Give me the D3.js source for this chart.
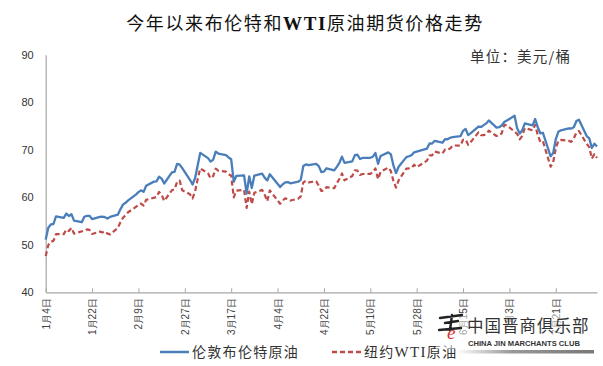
<!DOCTYPE html>
<html>
<head>
<meta charset="utf-8">
<script src="https://cdn.jsdelivr.net/npm/d3@7"></script>
<style>
  body { margin: 0; background: #fff; }
  svg { display: block; font-family: "Noto Sans CJK SC", "Liberation Sans", sans-serif; }
</style>
</head>
<body>
<div id="chart"></div>
<script>
var width = 603, height = 366;

// trading days, 2021 (month-day)
var dates = [
  "01-04","01-05","01-06","01-07","01-08","01-11","01-12","01-13","01-14","01-15",
  "01-18","01-19","01-20","01-21","01-22","01-25","01-26","01-27","01-28","01-29",
  "02-01","02-02","02-03","02-04","02-05","02-08","02-09","02-10","02-11","02-12",
  "02-15","02-16","02-17","02-18","02-19","02-22","02-23","02-24","02-25","02-26",
  "03-01","03-02","03-03","03-04","03-05","03-08","03-09","03-10","03-11","03-12",
  "03-15","03-16","03-17","03-18","03-19","03-22","03-23","03-24","03-25","03-26",
  "03-29","03-30","03-31",
  "04-01","04-05","04-06","04-07","04-08","04-09","04-12","04-13","04-14","04-15",
  "04-16","04-19","04-20","04-21","04-22","04-23","04-26","04-27","04-28","04-29","04-30",
  "05-03","05-04","05-05","05-06","05-07","05-10","05-11","05-12","05-13","05-14",
  "05-17","05-18","05-19","05-20","05-21","05-24","05-25","05-26","05-27","05-28",
  "06-01","06-02","06-03","06-04","06-07","06-08","06-09","06-10","06-11","06-14",
  "06-15","06-16","06-17","06-18","06-21","06-22","06-23","06-24","06-25","06-28",
  "06-29","06-30",
  "07-01","07-02","07-05","07-06","07-07","07-08","07-09","07-12","07-13","07-14",
  "07-15","07-16","07-19","07-20","07-21","07-22","07-23","07-26","07-27","07-28",
  "07-29","07-30",
  "08-02","08-03","08-04","08-05","08-06"
];

// 伦敦布伦特原油
var brent = [
  51.09,53.60,54.30,54.38,55.99,55.66,56.58,56.06,56.42,55.10,
  54.75,55.90,56.08,56.10,55.41,55.88,55.91,55.81,55.53,55.88,
  56.35,57.46,58.46,58.84,59.34,60.56,61.09,61.47,61.14,62.43,
  63.30,63.35,64.34,63.93,62.91,65.24,65.37,67.04,66.88,66.13,
  63.69,62.70,64.07,66.74,69.36,68.24,67.52,67.90,69.63,69.22,
  68.88,68.39,68.00,63.28,64.53,64.62,60.79,64.41,61.95,64.57,
  64.98,64.14,63.54,
  64.86,62.15,62.74,63.16,63.20,62.95,63.28,63.67,66.58,66.94,
  66.77,67.05,66.57,65.32,65.40,66.11,65.65,66.42,67.27,68.56,67.25,
  67.56,68.88,68.96,68.09,68.28,68.32,68.55,69.32,67.05,68.71,
  69.46,69.03,66.66,65.11,66.44,68.46,68.65,68.87,69.46,69.63,
  70.25,71.35,71.31,71.89,71.49,72.22,72.22,72.52,72.69,72.86,
  73.99,74.39,73.08,73.51,74.90,74.81,75.19,75.56,76.18,74.68,
  74.76,75.13,
  75.84,76.17,77.16,74.53,73.43,74.12,75.55,75.16,76.49,74.76,
  73.47,73.59,68.62,69.35,72.23,73.79,74.10,74.50,74.48,74.74,
  76.05,76.33,
  72.89,72.41,70.38,71.29,70.70
];

// 纽约WTI原油 (null = no settlement that day)
var wti = [
  47.62,49.93,50.63,50.83,52.24,52.25,53.21,52.91,53.57,52.36,
  null,52.98,53.24,53.13,52.27,52.77,52.61,52.85,52.34,52.20,
  53.55,54.76,55.69,56.23,56.85,57.97,58.36,58.68,58.24,59.47,
  null,60.05,61.14,60.52,59.24,61.49,61.67,63.22,63.53,61.50,
  60.64,59.75,61.28,63.83,66.09,65.05,64.01,64.44,66.02,65.61,
  65.39,64.80,64.60,60.00,61.42,61.55,57.76,61.18,58.56,60.97,
  61.56,60.55,59.16,
  61.45,58.65,59.33,59.77,59.60,59.32,59.70,60.18,63.15,63.46,
  63.13,63.38,62.44,61.35,61.43,62.14,61.91,62.94,63.86,65.01,63.58,
  64.49,65.69,65.63,64.71,64.90,64.92,65.28,66.08,63.82,65.37,
  66.27,65.49,63.36,62.05,63.58,66.05,66.07,66.21,66.85,66.32,
  67.72,68.83,68.81,69.62,69.23,70.05,69.96,70.29,70.91,70.88,
  72.12,72.15,71.04,71.64,73.66,73.06,73.08,73.30,74.05,72.91,
  72.98,73.47,
  75.23,75.16,null,73.37,72.20,72.94,74.56,74.10,75.25,73.13,
  71.65,71.81,66.42,67.42,70.30,71.91,72.07,71.91,71.65,72.39,
  73.62,73.95,
  71.26,70.56,68.15,69.09,68.28
];

var tickDates = ["01-04","01-22","02-09","02-27","03-17","04-04","04-22","05-10","05-28","06-15","07-03","07-21"];
var tickLabels = ["1月4日","1月22日","2月9日","2月27日","3月17日","4月4日","4月22日","5月10日","5月28日","6月15日","7月3日","7月21日"];
var yTicks = [40, 50, 60, 70, 80, 90];

var seriesNames = ["伦敦布伦特原油", "纽约WTI原油"];
var unitText = "单位：美元/桶";

function toDate(s) { return new Date("2021-" + s + "T00:00:00Z"); }

var rows = dates.map(function(d, i) {
  return { date: toDate(d), brent: brent[i], wti: wti[i] };
});

var svg = d3.select("#chart").append("svg")
  .attr("width", width)
  .attr("height", height);

svg.append("rect").attr("width", width).attr("height", height).attr("fill", "#fff");

var x = d3.scaleUtc()
  .domain([toDate("01-04"), toDate("08-06")])
  .range([45.7, 597]);

var y = d3.scaleLinear()
  .domain([40, 90])
  .range([292.3, 54.8]);

// title
var t = svg.append("text")
  .attr("x", 305).attr("y", 30)
  .attr("text-anchor", "middle")
  .attr("font-size", 18)
  .attr("letter-spacing", 1.6)
  .attr("fill", "#111");
t.append("tspan").text("今年以来布伦特和");
t.append("tspan").attr("font-family", "Liberation Serif, serif").attr("font-weight", "bold").attr("font-size", 19).text("WTI");
t.append("tspan").text("原油期货价格走势");

svg.append("text")
  .attr("x", 470).attr("y", 62)
  .attr("font-size", 14.5)
  .attr("letter-spacing", 1.2)
  .attr("fill", "#333")
  .text(unitText);

// y axis
var yAxis = svg.append("g")
  .attr("transform", "translate(45.7,0)")
  .call(d3.axisLeft(y).tickValues(yTicks).tickSize(0).tickPadding(12));
yAxis.select(".domain").attr("stroke", "#a6a6a6").attr("stroke-width", 1.2);
yAxis.selectAll("text")
  .attr("font-family", "Liberation Sans, sans-serif")
  .attr("font-size", 11)
  .attr("fill", "#333");

// x axis
var xAxis = svg.append("g")
  .attr("transform", "translate(0," + y(40) + ")")
  .call(d3.axisBottom(x)
    .tickValues(tickDates.map(toDate))
    .tickSize(-4)
    .tickSizeOuter(0)
    .tickFormat(function(d, i) { return tickLabels[i]; }));
xAxis.select(".domain").attr("stroke", "#a6a6a6").attr("stroke-width", 1.2);
xAxis.selectAll(".tick line").attr("stroke", "#a6a6a6");
xAxis.selectAll("text")
  .attr("font-size", 10)
  .attr("fill", "#444")
  .attr("text-anchor", "end")
  .attr("dy", "0.35em")
  .attr("transform", "translate(0,6) rotate(-90)")
  .attr("x", 0).attr("y", 0);

// lines
var brentLine = d3.line()
  .defined(function(d) { return d.brent != null; })
  .x(function(d) { return x(d.date); })
  .y(function(d) { return y(d.brent); });

var wtiLine = d3.line()
  .defined(function(d) { return d.wti != null; })
  .x(function(d) { return x(d.date); })
  .y(function(d) { return y(d.wti); });

var blue = "#4a7ebb", red = "#be4b48";

svg.append("path")
  .datum(rows.filter(function(d) { return d.wti != null; }))
  .attr("d", wtiLine)
  .attr("fill", "none")
  .attr("stroke", red)
  .attr("stroke-width", 2.2)
  .attr("stroke-dasharray", "5,3")
  .attr("stroke-linejoin", "round");

svg.append("path")
  .datum(rows)
  .attr("d", brentLine)
  .attr("fill", "none")
  .attr("stroke", blue)
  .attr("stroke-width", 2.3)
  .attr("stroke-linejoin", "round");

// legend
var legend = svg.append("g").attr("font-size", 14).attr("fill", "#333").attr("letter-spacing", 1.3);
legend.append("line").attr("x1", 160).attr("x2", 189).attr("y1", 352).attr("y2", 352)
  .attr("stroke", blue).attr("stroke-width", 2.5);
legend.append("text").attr("x", 192).attr("y", 357).text(seriesNames[0]);
legend.append("line").attr("x1", 332).attr("x2", 362).attr("y1", 352).attr("y2", 352)
  .attr("stroke", red).attr("stroke-width", 2.3).attr("stroke-dasharray", "5,3");
var lt = legend.append("text").attr("x", 364).attr("y", 357);
lt.append("tspan").text("纽约");
lt.append("tspan").attr("font-family", "Liberation Serif, serif").attr("font-size", 15).text("WTI");
lt.append("tspan").text("原油");

// watermark
var defs = svg.append("defs");
var grad = defs.append("linearGradient").attr("id", "wmbar");
grad.append("stop").attr("offset", "0%").attr("stop-color", "#fff");
grad.append("stop").attr("offset", "40%").attr("stop-color", "#999");
grad.append("stop").attr("offset", "100%").attr("stop-color", "#777");

var wm = svg.append("g");
wm.append("rect").attr("x", 436).attr("y", 315).attr("width", 160).attr("height", 34)
  .attr("fill", "#fff").attr("opacity", 0.5);
wm.append("rect").attr("x", 456).attr("y", 350).attr("width", 138).attr("height", 3.5)
  .attr("fill", "url(#wmbar)");
wm.append("path")
  .attr("d", "M440,318 L462,315 M445,323 L458,321 M452,315 L450,330 M439,330 L461,328")
  .attr("stroke", "#222").attr("stroke-width", 2.4).attr("fill", "none").attr("stroke-linecap", "round");
wm.append("text").attr("x", 447).attr("y", 339)
  .attr("font-family", "Liberation Serif, serif").attr("font-style", "italic")
  .attr("font-size", 19).attr("fill", "#e0302f").text("e");
wm.append("text").attr("x", 467).attr("y", 332)
  .attr("font-size", 16.5).attr("letter-spacing", 1).attr("fill", "#333").text("中国晋商俱乐部");
wm.append("text").attr("x", 468).attr("y", 346)
  .attr("font-family", "Liberation Sans, sans-serif").attr("font-weight", "bold")
  .attr("font-size", 7.6).attr("fill", "#333").text("CHINA JIN MARCHANTS CLUB");
</script>
</body>
</html>
